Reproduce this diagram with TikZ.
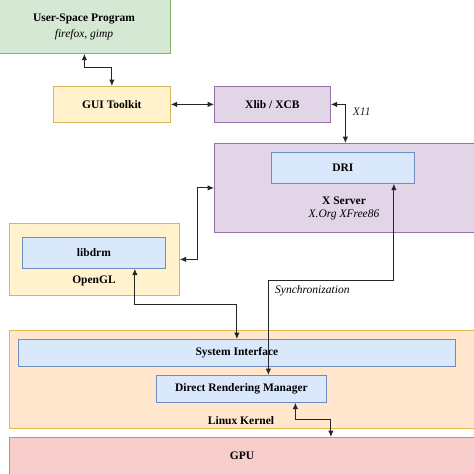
\documentclass[tikz,border=0pt]{standalone}
\usepackage{fontspec}
\setmainfont{Liberation Serif}
\usepackage{tikz}
\usetikzlibrary{arrows.meta,positioning,calc}
\definecolor{greenfill}{HTML}{D5E8D4}
\definecolor{greenline}{HTML}{82B366}
\definecolor{yellowfill}{HTML}{FFF2CC}
\definecolor{yellowline}{HTML}{D6B656}
\definecolor{purplefill}{HTML}{E1D5E7}
\definecolor{purpleline}{HTML}{9673A6}
\definecolor{bluefill}{HTML}{DAE8FC}
\definecolor{blueline}{HTML}{6C8EBF}
\definecolor{orangefill}{HTML}{FFE6CC}
\definecolor{orangeline}{HTML}{D79B00}
\definecolor{redfill}{HTML}{F8CECC}
\definecolor{redline}{HTML}{B85450}

\begin{document}
\begin{tikzpicture}[
    x=1pt,y=-1pt,
    bx/.style    = {rectangle,anchor=north west,inner sep=0pt,line width=0.8pt},
    greenbx/.style  = {bx,draw=greenline,fill=greenfill},
    yellowbx/.style = {bx,draw=yellowline,fill=yellowfill},
    purplebx/.style = {bx,draw=purpleline,fill=purplefill},
    bluebx/.style   = {bx,draw=blueline,fill=bluefill},
    orangebx/.style = {bx,draw=orangeline!70,fill=orangefill},
    redbx/.style    = {bx,draw=redline!70,fill=redfill},
    ttl/.style   = {font=\fontsize{11.5}{13}\selectfont\bfseries,align=center,inner sep=1pt},
    sub/.style   = {font=\fontsize{11.5}{13}\selectfont\itshape,inner sep=1pt},
    lnk/.style   = {{Latex[length=2.2mm,width=1.9mm]}-{Latex[length=2.2mm,width=1.9mm]},black!85,line width=0.9pt},
  ]

  \useasboundingbox (0,0) rectangle (474,474);

  % boxes
  \node[greenbx,minimum width=172pt,minimum height=55pt] (usp) at (-2,-2) {};
  \node[ttl] at (84,19) {User-Space Program};
  \node[sub] at (84,35) {firefox, gimp};

  \node[yellowbx,minimum width=117pt,minimum height=36pt] (gui) at (53,86) {};
  \node[ttl] at (gui) {GUI Toolkit};

  \node[purplebx,minimum width=116pt,minimum height=36pt] (xlib) at (214,86) {};
  \node[ttl] at (xlib) {Xlib / XCB};

  \node[purplebx,minimum width=262pt,minimum height=89pt] (xsrv) at (214,143) {};
  \node[bluebx,minimum width=143pt,minimum height=31pt] (dri) at (271,152) {};
  \node[ttl] at (dri) {DRI};
  \node[ttl] at (344,201) {X Server};
  \node[sub] at (344,215) {X.Org XFree86};

  \node[yellowbx,minimum width=170pt,minimum height=72pt] (ogl) at (9,223) {};
  \node[bluebx,minimum width=143pt,minimum height=31pt] (libdrm) at (22,237) {};
  \node[ttl] at (libdrm) {libdrm};
  \node[ttl] at (94,281) {OpenGL};

  \node[orangebx,minimum width=467pt,minimum height=98pt] (kern) at (9,330) {};
  \node[bluebx,minimum width=437pt,minimum height=27pt] (sysif) at (18,339) {};
  \node[ttl] at (sysif) {System Interface};
  \node[bluebx,minimum width=170pt,minimum height=27pt] (drm) at (156,375) {};
  \node[ttl] at (drm) {Direct Rendering Manager};
  \node[ttl] at (241,421) {Linux Kernel};

  \node[redbx,minimum width=467pt,minimum height=42pt] (gpu) at (9,437) {};
  \node[ttl] at (242,456) {GPU};

  % connectors
  \draw[lnk] (usp.south) -- ++(0,14) -| (gui.north);
  \draw[lnk] (gui) -- (xlib);
  \draw[lnk] (xlib.east) -| node[sub,pos=0.6,right=6pt] {X11} (xsrv.north);
  \draw[lnk] (xsrv.west) -- ++(-17,0) |- (ogl.east);
  \draw[lnk] ([xshift=41pt]libdrm.south) -- ++(0,36) -| (sysif.north);
  \draw[lnk] ([xshift=51pt]dri.south) -- ++(0,97) -| ([xshift=27pt]drm.north);
  \node[sub,anchor=west] at (274,291) {Synchronization};
  \draw[lnk] ([xshift=54pt]drm.south) -- ++(0,17) -| ([xshift=88pt]gpu.north);

\end{tikzpicture}
\end{document}
